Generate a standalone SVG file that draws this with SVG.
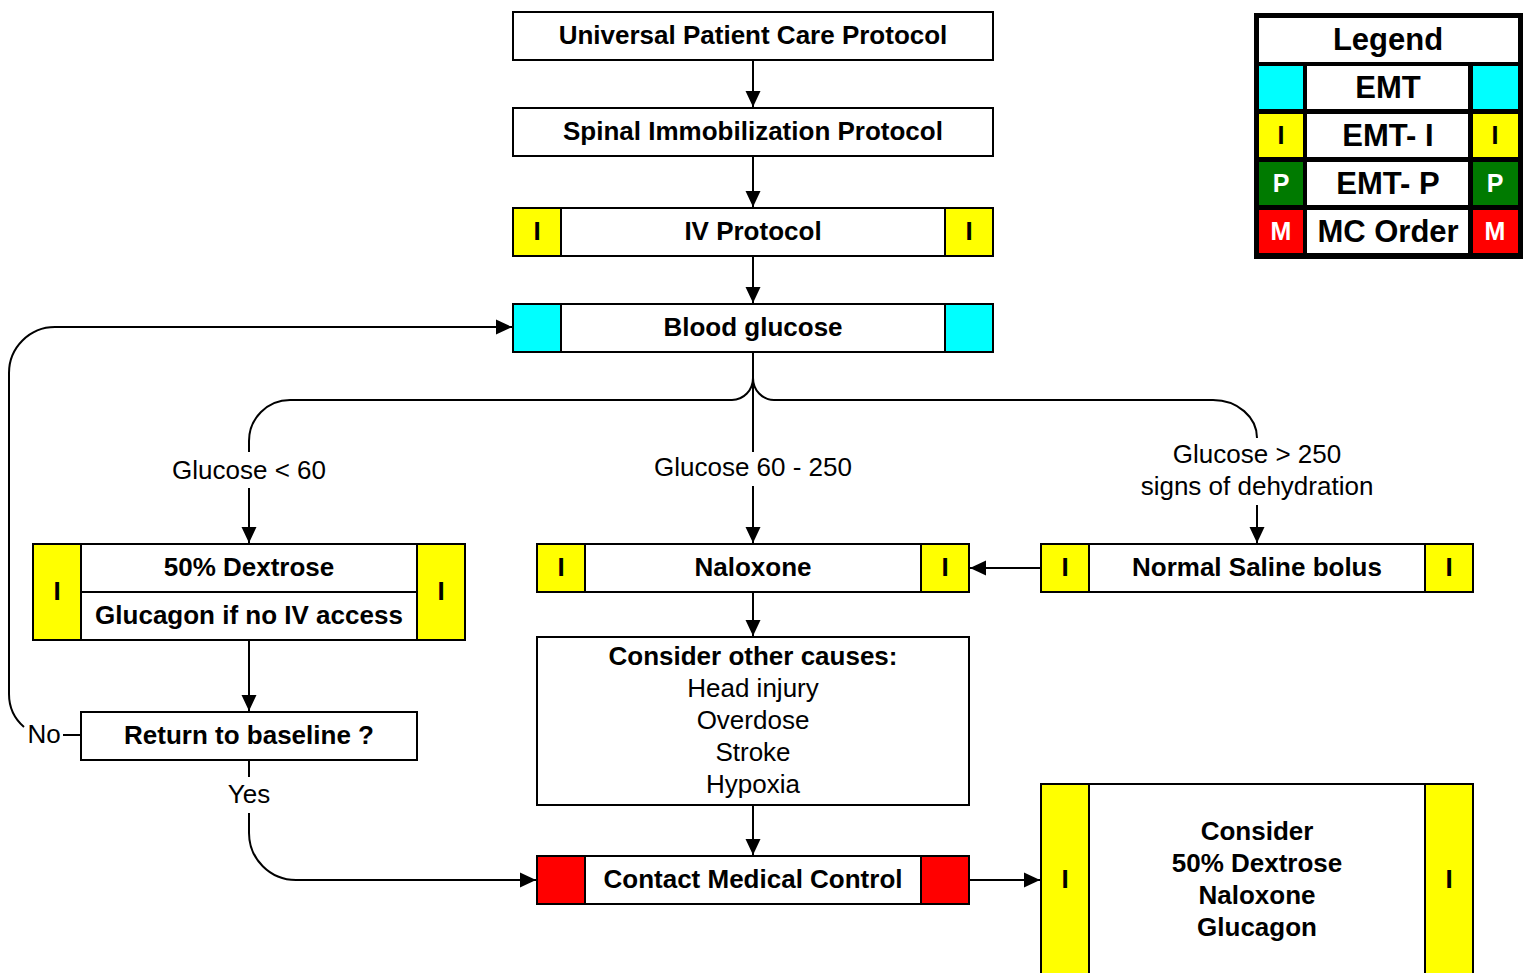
<svg xmlns="http://www.w3.org/2000/svg" width="1523" height="973" viewBox="0 0 1523 973">
<style>
.bx{fill:#fff;stroke:#000;stroke-width:2}
.y{fill:#ffff00;stroke:#000;stroke-width:2}
.c{fill:#00ffff;stroke:#000;stroke-width:2}
.r{fill:#ff0000;stroke:#000;stroke-width:2}
.b{font-family:"Liberation Sans",Arial,sans-serif;font-size:26px;font-weight:bold;text-anchor:middle;fill:#000}
.n{font-family:"Liberation Sans",Arial,sans-serif;font-size:26px;text-anchor:middle;fill:#000}
.lg{font-family:"Liberation Sans",Arial,sans-serif;font-size:31px;font-weight:bold;text-anchor:middle;fill:#000}
.ls{font-family:"Liberation Sans",Arial,sans-serif;font-size:25px;font-weight:bold;text-anchor:middle}
.ln{fill:none;stroke:#000;stroke-width:2}
.ar{fill:none;stroke:#000;stroke-width:2;marker-end:url(#ah)}
</style>
<defs>
<marker id="ah" viewBox="0 0 16 16" refX="16" refY="8" markerWidth="16" markerHeight="16" markerUnits="userSpaceOnUse" orient="auto">
<path d="M0,0.5 L16,8 L0,15.5 z" fill="#000"/>
</marker>
</defs>
<rect width="1523" height="973" fill="#fff"/>

<g id="connectors">
<path class="ar" d="M753 61 L753 107"/>
<path class="ar" d="M753 157 L753 207"/>
<path class="ar" d="M753 257 L753 303"/>
<path class="ln" d="M753 353 L753 452"/>
<path class="ar" d="M753 486 L753 543"/>
<path class="ln" d="M753 378 A21 22 0 0 1 732 400 L290 400 A41 41 0 0 0 249 441 L249 452"/>
<path class="ar" d="M249 488 L249 543"/>
<path class="ln" d="M753 378 A21 22 0 0 0 774 400 L1213 400 A44 38 0 0 1 1257 438"/>
<path class="ar" d="M1257 505 L1257 543"/>
<path class="ar" d="M1040 568 L970 568"/>
<path class="ar" d="M249 640 L249 711"/>
<path class="ar" d="M753 593 L753 636"/>
<path class="ar" d="M753 806 L753 855"/>
<path class="ar" d="M970 880 L1040 880"/>
<path class="ln" d="M63 735 L81 735"/>
<path class="ar" d="M24 727 Q9 714 9 694 L9 373 A46 46 0 0 1 55 327 L512 327"/>
<path class="ln" d="M249 761 L249 777"/>
<path class="ar" d="M249 813 L249 833 A47 47 0 0 0 296 880 L536 880"/>
</g>

<g id="n1">
<rect class="bx" x="513" y="12" width="480" height="48"/>
<text class="b" x="753" y="44">Universal Patient Care Protocol</text>
</g>
<g id="n2">
<rect class="bx" x="513" y="108" width="480" height="48"/>
<text class="b" x="753" y="140">Spinal Immobilization Protocol</text>
</g>
<g id="n3">
<rect class="bx" x="513" y="208" width="480" height="48"/>
<rect class="y" x="513" y="208" width="48" height="48"/>
<rect class="y" x="945" y="208" width="48" height="48"/>
<text class="b" x="537" y="240">I</text>
<text class="b" x="969" y="240">I</text>
<text class="b" x="753" y="240">IV Protocol</text>
</g>
<g id="n4">
<rect class="bx" x="513" y="304" width="480" height="48"/>
<rect class="c" x="513" y="304" width="48" height="48"/>
<rect class="c" x="945" y="304" width="48" height="48"/>
<text class="b" x="753" y="336">Blood glucose</text>
</g>

<g id="labels">
<text class="n" x="249" y="479">Glucose &lt; 60</text>
<text class="n" x="753" y="476">Glucose 60 - 250</text>
<text class="n" x="1257" y="463">Glucose &gt; 250</text>
<text class="n" x="1257" y="495">signs of dehydration</text>
<text class="n" x="44" y="743">No</text>
<text class="n" x="249" y="803">Yes</text>
</g>

<g id="n5">
<rect class="bx" x="33" y="544" width="432" height="96"/>
<line class="ln" x1="81" y1="592" x2="417" y2="592"/>
<rect class="y" x="33" y="544" width="48" height="96"/>
<rect class="y" x="417" y="544" width="48" height="96"/>
<text class="b" x="57" y="600">I</text>
<text class="b" x="441" y="600">I</text>
<text class="b" x="249" y="576">50% Dextrose</text>
<text class="b" x="249" y="624">Glucagon if no IV access</text>
</g>
<g id="n6">
<rect class="bx" x="81" y="712" width="336" height="48"/>
<text class="b" x="249" y="744">Return to baseline ?</text>
</g>
<g id="n7">
<rect class="bx" x="537" y="544" width="432" height="48"/>
<rect class="y" x="537" y="544" width="48" height="48"/>
<rect class="y" x="921" y="544" width="48" height="48"/>
<text class="b" x="561" y="576">I</text>
<text class="b" x="945" y="576">I</text>
<text class="b" x="753" y="576">Naloxone</text>
</g>
<g id="n8">
<rect class="bx" x="1041" y="544" width="432" height="48"/>
<rect class="y" x="1041" y="544" width="48" height="48"/>
<rect class="y" x="1425" y="544" width="48" height="48"/>
<text class="b" x="1065" y="576">I</text>
<text class="b" x="1449" y="576">I</text>
<text class="b" x="1257" y="576">Normal Saline bolus</text>
</g>
<g id="n9">
<rect class="bx" x="537" y="637" width="432" height="168"/>
<text class="b" x="753" y="665">Consider other causes:</text>
<text class="n" x="753" y="697">Head injury</text>
<text class="n" x="753" y="729">Overdose</text>
<text class="n" x="753" y="761">Stroke</text>
<text class="n" x="753" y="793">Hypoxia</text>
</g>
<g id="n10">
<rect class="bx" x="537" y="856" width="432" height="48"/>
<rect class="r" x="537" y="856" width="48" height="48"/>
<rect class="r" x="921" y="856" width="48" height="48"/>
<text class="b" x="753" y="888">Contact Medical Control</text>
</g>
<g id="n11">
<rect class="bx" x="1041" y="784" width="432" height="192"/>
<rect class="y" x="1041" y="784" width="48" height="192"/>
<rect class="y" x="1425" y="784" width="48" height="192"/>
<text class="b" x="1065" y="888">I</text>
<text class="b" x="1449" y="888">I</text>
<text class="b" x="1257" y="840">Consider</text>
<text class="b" x="1257" y="872">50% Dextrose</text>
<text class="b" x="1257" y="904">Naloxone</text>
<text class="b" x="1257" y="936">Glucagon</text>
</g>

<g id="legend">
<rect x="1254" y="13" width="269" height="246" fill="#000"/>
<rect x="1259" y="18" width="259" height="44" fill="#fff"/>
<text class="lg" x="1388" y="50">Legend</text>
<rect x="1259" y="66" width="44" height="43" fill="#00ffff"/>
<rect x="1307" y="66" width="161" height="43" fill="#fff"/>
<rect x="1473" y="66" width="45" height="43" fill="#00ffff"/>
<text class="lg" x="1388" y="98">EMT</text>
<rect x="1259" y="114" width="44" height="43" fill="#ffff00"/>
<rect x="1307" y="114" width="161" height="43" fill="#fff"/>
<rect x="1473" y="114" width="45" height="43" fill="#ffff00"/>
<text class="lg" x="1388" y="146">EMT- I</text>
<text class="ls" x="1281" y="144" fill="#000">I</text>
<text class="ls" x="1495" y="144" fill="#000">I</text>
<rect x="1259" y="162" width="44" height="43" fill="#007a00"/>
<rect x="1307" y="162" width="161" height="43" fill="#fff"/>
<rect x="1473" y="162" width="45" height="43" fill="#007a00"/>
<text class="lg" x="1388" y="194">EMT- P</text>
<text class="ls" x="1281" y="192" fill="#fff">P</text>
<text class="ls" x="1495" y="192" fill="#fff">P</text>
<rect x="1259" y="210" width="44" height="43" fill="#ff0000"/>
<rect x="1307" y="210" width="161" height="43" fill="#fff"/>
<rect x="1473" y="210" width="45" height="43" fill="#ff0000"/>
<text class="lg" x="1388" y="242">MC Order</text>
<text class="ls" x="1281" y="240" fill="#fff">M</text>
<text class="ls" x="1495" y="240" fill="#fff">M</text>
</g>
</svg>
